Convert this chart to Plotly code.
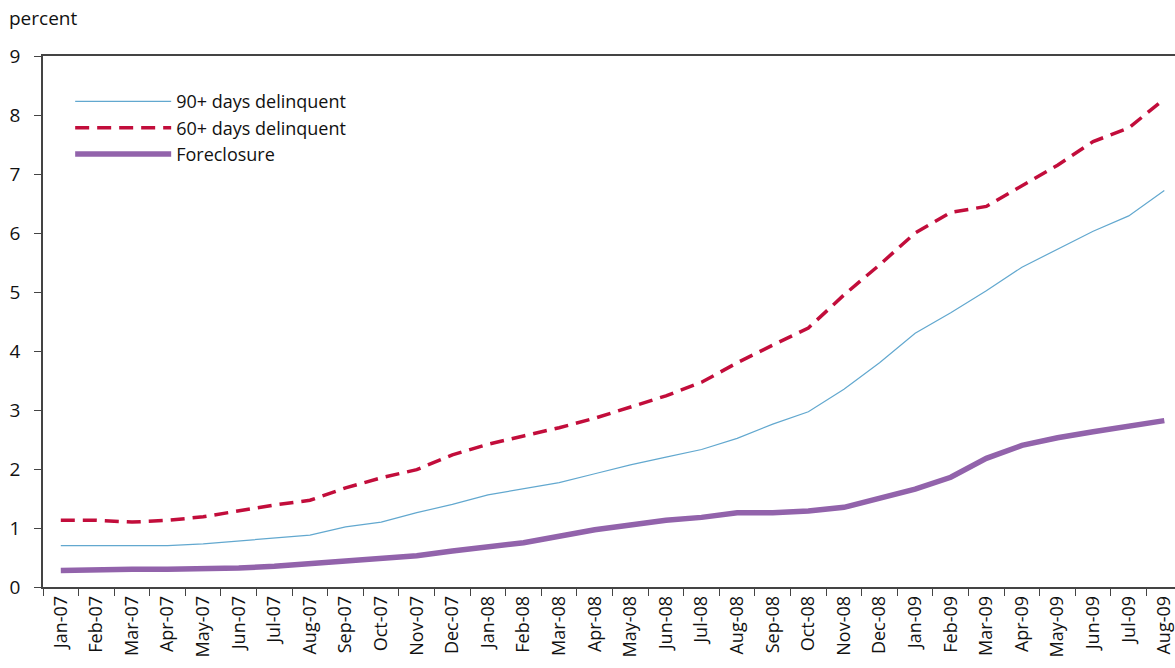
import plotly.graph_objects as go

months = ["Jan-07","Feb-07","Mar-07","Apr-07","May-07","Jun-07","Jul-07","Aug-07","Sep-07","Oct-07","Nov-07","Dec-07",
          "Jan-08","Feb-08","Mar-08","Apr-08","May-08","Jun-08","Jul-08","Aug-08","Sep-08","Oct-08","Nov-08","Dec-08",
          "Jan-09","Feb-09","Mar-09","Apr-09","May-09","Jun-09","Jul-09","Aug-09"]

d90 = [0.70,0.70,0.70,0.70,0.73,0.78,0.83,0.88,1.02,1.10,1.26,1.40,
       1.56,1.67,1.77,1.92,2.07,2.20,2.33,2.52,2.76,2.97,3.35,3.80,
       4.30,4.65,5.02,5.42,5.73,6.03,6.29,6.72]

d60 = [1.13,1.13,1.10,1.13,1.19,1.29,1.39,1.47,1.68,1.85,1.99,2.24,
       2.42,2.56,2.70,2.86,3.05,3.24,3.47,3.80,4.10,4.39,4.95,5.46,
       6.00,6.35,6.45,6.80,7.15,7.55,7.78,8.27]

fc = [0.28,0.30,0.30,0.30,0.30,0.32,0.35,0.40,0.45,0.48,0.53,0.61,
      0.67,0.75,0.86,0.97,1.05,1.13,1.18,1.26,1.26,1.29,1.35,1.50,
      1.66,1.86,2.18,2.40,2.53,2.63,2.72,2.82]

FONT = "Open Sans, Noto Sans, DejaVu Sans, sans-serif"

fig = go.Figure()
fig.add_trace(go.Scatter(x=months, y=d90, mode="lines", name="90+ days delinquent",
                         line=dict(color="#62a8cf", width=1.2)))
fig.add_trace(go.Scatter(x=months, y=d60, mode="lines", name="60+ days delinquent",
                         line=dict(color="#c20d3b", width=3.5, dash="14px,8px")))
fig.add_trace(go.Scatter(x=months, y=fc, mode="lines", name="Foreclosure",
                         line=dict(color="#9263ab", width=5.5)))

fig.update_layout(
    width=1175, height=668,
    margin=dict(l=43, r=0, t=56, b=81),
    paper_bgcolor="white", plot_bgcolor="white",
    font=dict(family=FONT, size=18, color="#111"),
    showlegend=True,
    legend=dict(x=0.024, y=0.949, xanchor="left", yanchor="top",
                bgcolor="rgba(0,0,0,0)", itemwidth=96,
                font=dict(size=18), tracegroupgap=0),
    xaxis=dict(type="category", range=[-0.5, 31.3], showgrid=False, automargin=False,
               showline=True, linecolor="#444", linewidth=1.5, mirror=True,
               ticks="outside", ticklen=7, tickcolor="#444", tickson="boundaries",
               tickangle=-90, tickfont=dict(size=18)),
    yaxis=dict(range=[0, 9], dtick=1, showgrid=False, zeroline=False, automargin=False,
               showline=True, linecolor="#444", linewidth=1.5,
               ticks="outside", ticklen=7, tickcolor="#444", ticklabelstandoff=10,
               tickfont=dict(size=19)),
    annotations=[dict(text="percent", xref="paper", yref="paper", x=-0.032, y=1.072,
                      xanchor="left", yanchor="middle", showarrow=False,
                      font=dict(size=19))],
)

fig.write_html("out.html", config={"displayModeBar": False},
               post_script="document.body.style.margin='0';")
